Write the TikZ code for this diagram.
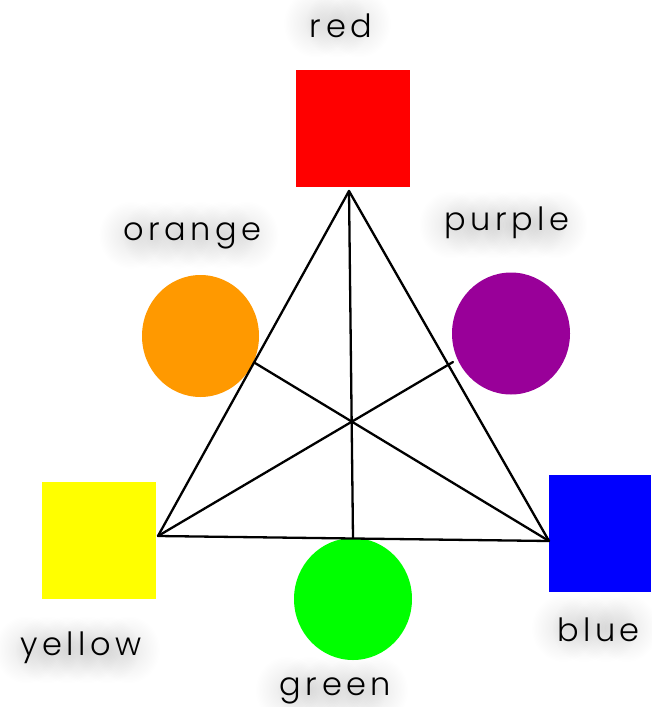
\documentclass[tikz,border=0pt]{standalone}
\usepackage{fontspec}
\IfFontExistsTF{Poppins Light}{\setmainfont{Poppins Light}[LetterSpace=14]}{\setmainfont{Poppins}[LetterSpace=14]}
\usetikzlibrary{calc,shapes.geometric,fadings}
\definecolor{cred}{HTML}{FF0000}
\definecolor{corange}{HTML}{FF9900}
\definecolor{cpurple}{HTML}{990099}
\definecolor{cyellow}{HTML}{FFFF00}
\definecolor{cgreen}{HTML}{00FF00}
\definecolor{cblue}{HTML}{0000FF}
\tikzfading[name=softglow, inner color=transparent!0, outer color=transparent!100]
\pgfdeclarelayer{bg}
\pgfdeclarelayer{shade}
\pgfsetlayers{bg,shade,main}
\tikzset{
  sq/.style={rectangle, draw=none, inner sep=0pt, minimum width=114pt, minimum height=117pt},
  disc/.style={ellipse, draw=none, inner sep=0pt, minimum width=118pt, minimum height=122pt},
  lbl/.style={anchor=base, inner sep=0pt, font=\fontsize{32}{34}\selectfont},
  glow/.style={fill=black, opacity=0.09, path fading=softglow},
  edge/.style={draw=black, line width=2.3pt, line cap=round, line join=round}
}
% #1 name, #2 base point, #3 text, #4 list of fractions for glow blobs
\newcommand\glowlabel[4]{%
  \node[lbl] (#1) at (#2) {#3};%
  \begin{pgfonlayer}{shade}
    \foreach \t in {#4}{%
      \path[glow] ($(#1.south west)!\t!(#1.south east)+(-4,-14)$) ++(-32,-34) rectangle ++(64,68);
    }%
  \end{pgfonlayer}%
}
\begin{document}
\begin{tikzpicture}[x=1pt,y=-1pt]
\begin{pgfonlayer}{bg}
\fill[white] (0,0) rectangle (651,707);
\end{pgfonlayer}
\useasboundingbox (0,0) rectangle (651,707);
% shapes
\node[sq, fill=cred] (red) at (353,128.5) {};
\node[sq, fill=cyellow] (yellow) at (99,540.5) {};
\node[sq, fill=cblue, minimum width=102pt] (blue) at (600,533) {};
\node[disc, fill=corange, minimum width=117pt] (orange) at (200.5,336) {};
\node[disc, fill=cpurple] (purple) at (511,333.5) {};
\node[disc, fill=cgreen] (green) at (353,599) {};
% triangle corners and line ends
\coordinate (T) at (349,191);
\coordinate (L) at (158,536);
\coordinate (R) at (549,541);
\coordinate (oe) at (255,363);
\coordinate (pe) at (453,362);
\coordinate (ge) at (353,538);
\draw[edge] (T) -- (L) -- (R) -- cycle;
\draw[edge] (T) -- (ge);
\draw[edge] (R) -- (oe);
\draw[edge] (L) -- (pe);
% labels
\glowlabel{redlbl}{341,37}{red}{0.15,0.5,0.85}
\glowlabel{orangelbl}{192.5,240}{orange}{0.08,0.25,0.42,0.58,0.75,0.92}
\glowlabel{purplelbl}{507,230}{purple}{0.08,0.25,0.42,0.58,0.75,0.92}
\glowlabel{yellowlbl}{81,655}{yellow}{0.08,0.25,0.42,0.58,0.75,0.92}
\glowlabel{greenlbl}{335.5,695}{green}{0.1,0.3,0.5,0.7,0.9}
\glowlabel{bluelbl}{598.5,641.5}{blue}{0.12,0.37,0.63,0.88}
\end{tikzpicture}
\end{document}
